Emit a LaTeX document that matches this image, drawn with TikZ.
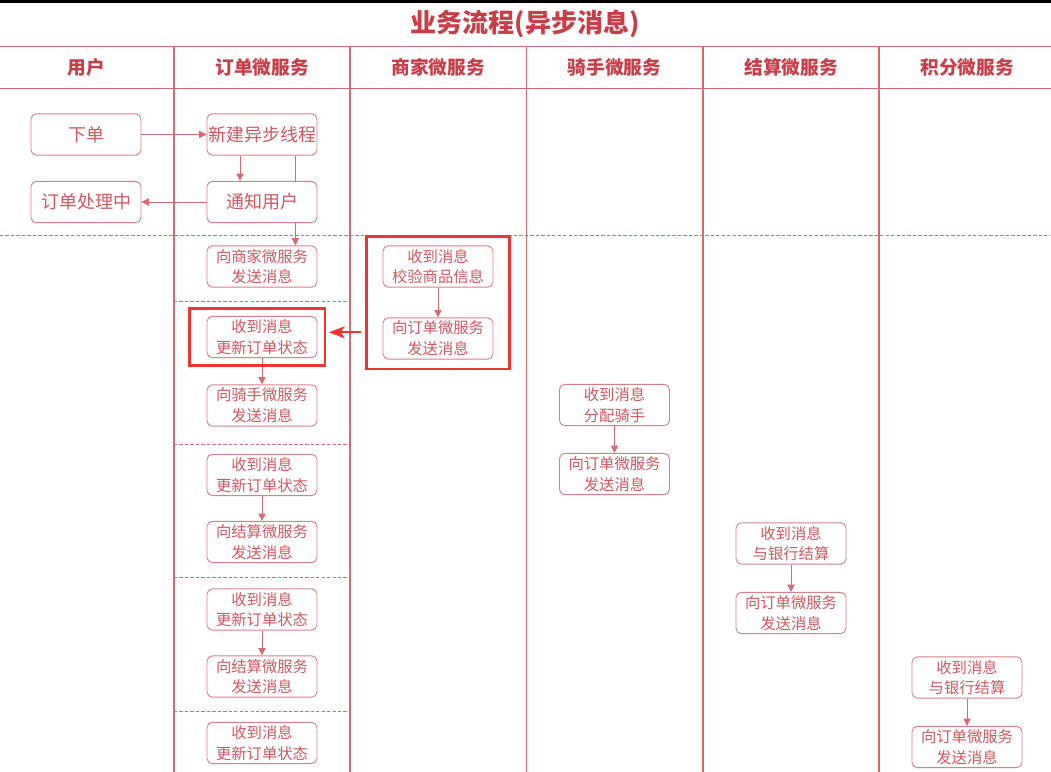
\documentclass[tikz,border=0pt]{standalone}
\usepackage{fontspec}
\setmainfont{Noto Sans CJK SC}
\usetikzlibrary{arrows.meta, backgrounds, fit}

\definecolor{lanered}{RGB}{208,108,118}
\definecolor{boxred}{RGB}{214,128,138}
\definecolor{txtred}{RGB}{205,88,98}
\definecolor{headred}{RGB}{200,62,72}
\definecolor{hilite}{RGB}{240,52,52}

\begin{document}
\begin{tikzpicture}[x=0.75pt, y=-0.75pt,
    box/.style={draw=boxred, fill=white, line width=0.7pt, rounded corners=4pt,
        minimum width=82.5pt, minimum height=31pt, inner sep=0pt, align=center,
        text=txtred, font=\fontsize{11.5}{15.5}\selectfont},
    bigbox/.style={box, font=\fontsize{13.5}{16}\selectfont},
    head/.style={text=headred, font=\fontsize{14}{16}\selectfont\bfseries},
    lane/.style={draw=lanered, line width=0.8pt},
    sep/.style={draw=lanered, line width=0.6pt, dash pattern=on 2.5pt off 1.6pt},
    flow/.style={draw=lanered, line width=0.7pt, -{Triangle[length=5.5pt,width=5.5pt]}},
    hibox/.style={draw=hilite, line width=1.8pt, inner sep=5.6pt},
    bigarrow/.style={draw=hilite, line width=1.3pt, -{Stealth[length=12pt,width=9pt,inset=3pt]}}]
    \useasboundingbox (0,0) rectangle (1051,772);

    % Top bar and title
    \fill[black] (0,0) rectangle (1051,3);
    \node[text=headred, font=\fontsize{19.5}{22}\selectfont\bfseries] (title) at (525,24) {业务流程(异步消息)};

    % Swim lanes
    \draw[lane] (0,46.6) -- (1051,46.6);
    \draw[lane] (0,88.5) -- (1051,88.5);
    \foreach \x in {174,350,526.5,703,879} { \draw[lane] (\x,46.6) -- (\x,772); }
    \foreach \x/\t [count=\i] in {86/用户, 262/订单微服务, 438/商家微服务, 614.5/骑手微服务, 791/结算微服务, 967/积分微服务}
        \node[head] (head\i) at (\x,67.5) {\t};

    % Dashed separators
    \draw[sep] (0,235.5) -- (1051,235.5);
    \foreach \y in {301.6,443.9,577.5,711.3} \draw[sep] (174,\y) -- (350,\y);

    % User and order start
    \node[bigbox] (place) at (86,134.5) {下单};
    \node[bigbox] (pending) at (86,202) {订单处理中};
    \node[bigbox] (newthread) at (262,134.5) {新建异步线程};
    \node[bigbox] (notify) at (262,202) {通知用户};

    % Order lane
    \node[box] (tomerch) at (262,266.5) {向商家微服务\\发送消息};
    \node[box] (upd1) at (262,337) {收到消息\\更新订单状态};
    \node[box] (torider) at (262,405.5) {向骑手微服务\\发送消息};
    \node[box] (upd2) at (262,475) {收到消息\\更新订单状态};
    \node[box] (tosettle1) at (262,542) {向结算微服务\\发送消息};
    \node[box] (upd3) at (262,609.5) {收到消息\\更新订单状态};
    \node[box] (tosettle2) at (262,676.5) {向结算微服务\\发送消息};
    \node[box] (upd4) at (262,743) {收到消息\\更新订单状态};

    % Merchant lane
    \node[box] (check) at (438,266.5) {收到消息\\校验商品信息};
    \node[box] (merchreply) at (438,338.5) {向订单微服务\\发送消息};

    % Rider lane
    \node[box] (assign) at (614.5,405) {收到消息\\分配骑手};
    \node[box] (riderreply) at (614.5,474) {向订单微服务\\发送消息};

    % Settlement lane
    \node[box] (bank1) at (791,543.5) {收到消息\\与银行结算};
    \node[box] (settlereply) at (791,613) {向订单微服务\\发送消息};

    % Points lane
    \node[box] (bank2) at (967,677.5) {收到消息\\与银行结算};
    \node[box] (pointsreply) at (967,747) {向订单微服务\\发送消息};

    % Connectors
    \draw[flow] (place) -- (newthread);
    \draw[flow] (notify) -- (pending);
    \draw[flow] ([xshift=-16.5pt]newthread.south) -- ([xshift=-16.5pt]notify.north);
    \begin{pgfonlayer}{background}
        \draw[flow] ([xshift=25pt]newthread.south) -- ([xshift=25pt]tomerch.north);
    \end{pgfonlayer}
    \draw[flow] (upd1) -- (torider);
    \draw[flow] (upd2) -- (tosettle1);
    \draw[flow] (upd3) -- (tosettle2);
    \draw[flow] (check) -- (merchreply);
    \draw[flow] (assign) -- (riderreply);
    \draw[flow] (bank1) -- (settlereply);
    \draw[flow] (bank2) -- (pointsreply);

    % Highlights
    \node[hibox, fit={(upd1) ([xshift=-7.3pt]upd1.west)}] (hlorder) {};
    \node[hibox, inner xsep=12pt, inner ysep=6.8pt, fit=(check)(merchreply)] (hlmerch) {};
    \draw[bigarrow] ([xshift=-3pt,yshift=3.5pt]hlmerch.west |- hlorder.east) -- ([xshift=2pt,yshift=3.5pt]hlorder.east);
\end{tikzpicture}
\end{document}
